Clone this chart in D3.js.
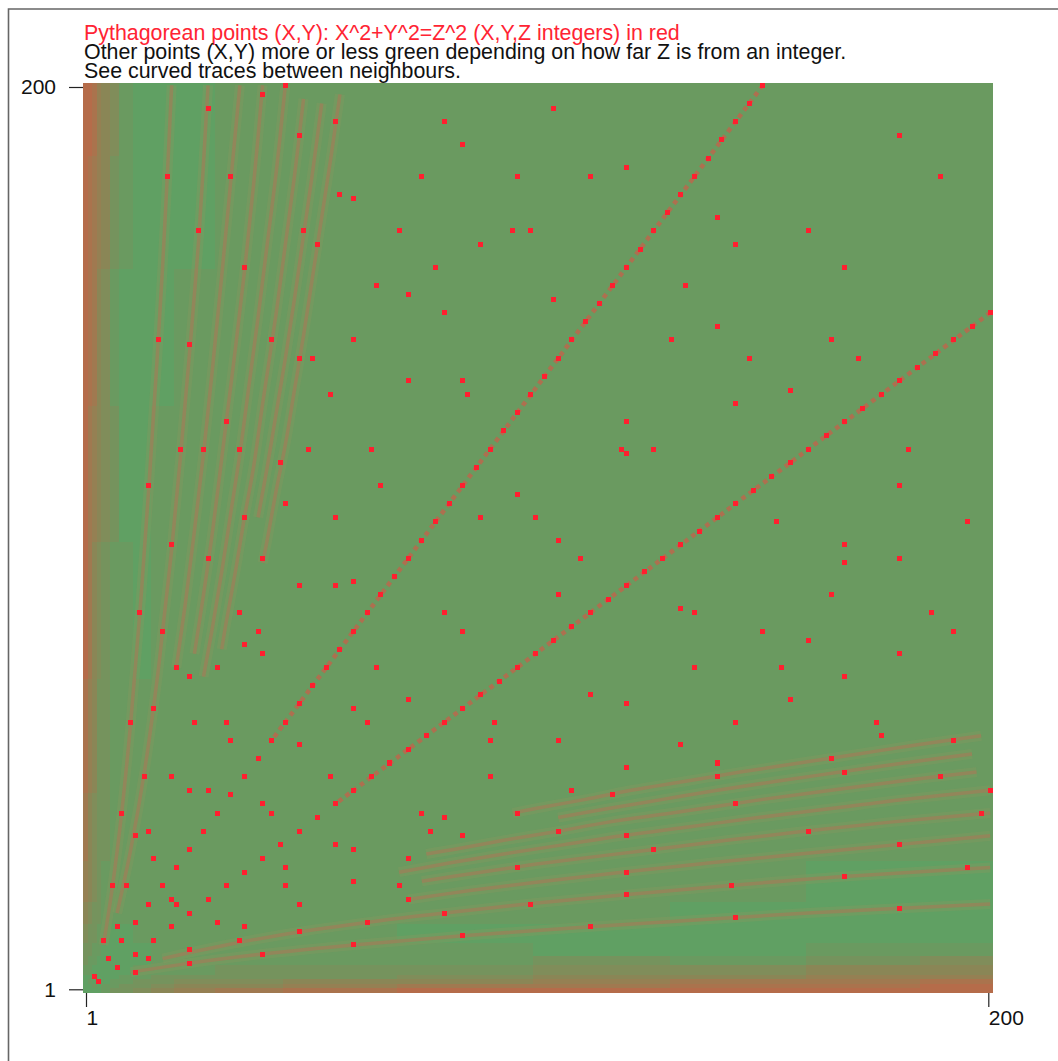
<!DOCTYPE html>
<html>
<head>
<meta charset="utf-8">
<script src="https://cdn.jsdelivr.net/npm/d3@7"></script>
<style>
html,body{margin:0;padding:0;background:#fff;}
text{font-family:"Liberation Sans",Arial,sans-serif;}
</style>
</head>
<body>
<svg id="chart" width="1058" height="1061" style="display:block"></svg>
<script>
const titleLines = [
  "Pythagorean points (X,Y): X^2+Y^2=Z^2 (X,Y,Z integers) in red",
  "Other points (X,Y) more or less green depending on how far Z is from an integer.",
  "See curved traces between neighbours."
];
const axisTicks = [1, 200];

// Start of each coarse bin along either axis (last bin ends at 200).
const binStarts = [1,2,3,4,5,7,9,12,16,21,30,45,70,100,130,160,185];
// Estimated redness 0-9 read by eye. Row = bin of the larger coordinate, digit = bin of the smaller one.
const fieldRows = [
  "1","11","121","1111","22111","322111","3322111","43322112","543322222",
  "6543222222","75433222222","865332222222","9754322122222","97654311222222",
  "987542111222222","9876532111222222","99865421112222222"
];

// Curved traces near the X axis as [x, y] (the picture mirrors them about X=Y).
const trace1 = [[200,20],[160,18],[112,15],[84,13],[60,11],[40,9],[24,7],[11,5]];
const trace2 = [[200,28],[167,26],[142,24],[119,22],[98,20],[80,18],[71,17],[49,14],[32,11],[18,8]];
const trace3 = [[200,35],[179,33],[158,31],[138,29],[119,27],[102,25],[86,23],[72,21]];
const trace4 = [[200,40],[178,38],[159,36],[142,34],[126,32],[102,29],[88,27],[75,25]];
const trace5 = [[200,45],[181,43],[165,41],[149,39],[134,37],[119,35],[106,33],[93,31],[81,29],[70,27]];
const trace6 = [[197,49],[180,47],[165,45],[150,43],[130,40],[116,38],[105,36],[93,34],[82,32],[76,31]];
const trace7 = [[196,53],[181,51],[167,49],[153,47],[140,45],[128,43],[116,41],[105,39]];
const trace8 = [[198,57],[184,55],[171,53],[158,51],[145,49],[133,47],[121,45],[111,43],[100,41],[95,40]];
const curvedTraces = [trace1,trace2,trace3,trace4,trace5,trace6,trace7,trace8];
const diagonalTrace = [[200,150],[136,102],[72,54],[56,42]];

// Integer leg pairs with an integer hypotenuse (drawn in both orders).
const legs3x4 = [[3,4],[6,8],[9,12],[12,16],[15,20],[18,24],[21,28],[24,32],[27,36],[30,40],[33,44],[36,48],[39,52],[42,56],[45,60],[48,64],[51,68],[54,72],[57,76],[60,80],[63,84],[66,88],[69,92],[72,96],[75,100],[78,104],[81,108],[84,112],[87,116],[90,120],[93,124],[96,128],[99,132],[102,136],[105,140],[108,144],[111,148],[114,152],[117,156],[120,160],[123,164],[126,168],[129,172],[132,176],[135,180],[138,184],[141,188],[144,192],[147,196],[150,200]];
const legs5x12 = [[5,12],[10,24],[15,36],[20,48],[25,60],[30,72],[35,84],[40,96],[45,108],[50,120],[55,132],[60,144],[65,156],[70,168],[75,180],[80,192]];
const legs8x15 = [[8,15],[16,30],[24,45],[32,60],[40,75],[48,90],[56,105],[64,120],[72,135],[80,150],[88,165],[96,180],[104,195]];
const legs7x24 = [[7,24],[14,48],[21,72],[28,96],[35,120],[42,144],[49,168],[56,192]];
const legs20x21 = [[20,21],[40,42],[60,63],[80,84],[100,105],[120,126],[140,147],[160,168],[180,189]];
const legsOther = [[12,35],[24,70],[36,105],[48,140],[60,175],[9,40],[18,80],[27,120],[36,160],[45,200],[28,45],[56,90],[84,135],[112,180],[11,60],[22,120],[33,180],[16,63],[32,126],[48,189],[33,56],[66,112],[99,168],[48,55],[96,110],[144,165],[13,84],[26,168],[36,77],[72,154],[39,80],[78,160],[65,72],[130,144],[20,99],[40,198],[60,91],[120,182],[15,112],[44,117],[88,105],[17,144],[24,143],[51,140],[85,132],[119,120],[52,165],[19,180],[57,176],[104,153],[95,168],[28,195],[84,187],[133,156],[140,171]];
const pointLegs = [...legs3x4,...legs5x12,...legs8x15,...legs7x24,...legs20x21,...legsOther];

const svg = d3.select("#chart");

// Cell scales: each integer occupies one unit centred on it.
const x = d3.scaleLinear().domain([0.5,200.5]).range([83,992.5]);
const y = d3.scaleLinear().domain([0.5,200.5]).range([992.7,83]);
const color = d3.scaleLinear().domain([0,9]).range(["#55a766","#b56c4a"]);

// Frame
svg.append("path").attr("d","M8.5,1061V9H1058").attr("fill","none").attr("stroke","#666").attr("stroke-width",1.6);

// Coarse field
const bins = binStarts.map((s,i)=>({i,lo:s-0.5,hi:(binStarts[i+1]||201)-0.5}));
const cells = bins.flatMap(a=>bins.map(b=>({a,b,v:+fieldRows[Math.max(a.i,b.i)][Math.min(a.i,b.i)]})));
svg.append("g").attr("shape-rendering","crispEdges").selectAll("rect").data(cells).join("rect")
  .attr("x",d=>x(d.a.lo)).attr("width",d=>x(d.a.hi)-x(d.a.lo))
  .attr("y",d=>y(d.b.hi)).attr("height",d=>y(d.b.lo)-y(d.b.hi))
  .attr("fill",d=>color(d.v));

// Traces
svg.append("clipPath").attr("id","field").append("rect")
  .attr("x",x(0.5)).attr("y",y(200.5)).attr("width",x(200.5)-x(0.5)).attr("height",y(0.5)-y(200.5));
const line = d3.line().x(d=>x(d[0])).y(d=>y(d[1])).curve(d3.curveCatmullRom);
const swap = t=>t.map(d=>[d[1],d[0]]);
const gT = svg.append("g").attr("clip-path","url(#field)").attr("fill","none");
const allCurved = [...curvedTraces,...curvedTraces.map(swap)];
gT.selectAll("path.halo").data(allCurved).join("path").attr("class","halo")
  .attr("d",line).attr("stroke","#84985f").attr("stroke-opacity",0.4).attr("stroke-width",10);
gT.selectAll("path.core").data(allCurved).join("path").attr("class","core")
  .attr("d",line).attr("stroke","#ab7656").attr("stroke-opacity",0.55).attr("stroke-width",3.5);
gT.selectAll("path.diag").data([diagonalTrace,swap(diagonalTrace)]).join("path").attr("class","diag")
  .attr("d",line).attr("stroke","#b8694c").attr("stroke-opacity",0.85).attr("stroke-width",4.5).attr("stroke-dasharray","4.5 4.5");

// Pythagorean points
const points = pointLegs.flatMap(d=>[d,[d[1],d[0]]]);
svg.append("g").attr("shape-rendering","crispEdges").selectAll("rect").data(points).join("rect")
  .attr("x",d=>x(d[0]-0.55)).attr("y",d=>y(d[1]+0.55))
  .attr("width",x(1.6)-x(0.5)).attr("height",y(0.5)-y(1.6))
  .attr("fill","#ff1f2f");

// Axes
const xAxisScale = d3.scaleLinear().domain([1,200]).range([86,988.3]);
const yAxisScale = d3.scaleLinear().domain([1,200]).range([989.3,87]);
const gx = svg.append("g").attr("transform","translate(0,993)")
  .call(d3.axisBottom(xAxisScale).tickValues(axisTicks).tickFormat(d3.format("d")).tickSize(14));
const gy = svg.append("g").attr("transform","translate(83,0)")
  .call(d3.axisLeft(yAxisScale).tickValues(axisTicks).tickFormat(d3.format("d")).tickSize(14));
[gx,gy].forEach(g=>{
  g.select(".domain").remove();
  g.selectAll("line").attr("stroke","#222").attr("stroke-width",1.2);
  g.selectAll("text").attr("font-size",21).attr("font-family",'"Liberation Sans",Arial,sans-serif').attr("fill","#111");
});
gx.selectAll("text").attr("y",17).attr("dy","0.71em").attr("text-anchor","start");
gy.selectAll("text").attr("x",-27);

// Title
svg.append("g").selectAll("text").data(titleLines).join("text")
  .attr("x",84).attr("y",(d,i)=>39.5+i*19)
  .attr("font-size",21.4)
  .attr("fill",(d,i)=>i===0?"#ff2433":"#111")
  .text(d=>d);
</script>
</body>
</html>
